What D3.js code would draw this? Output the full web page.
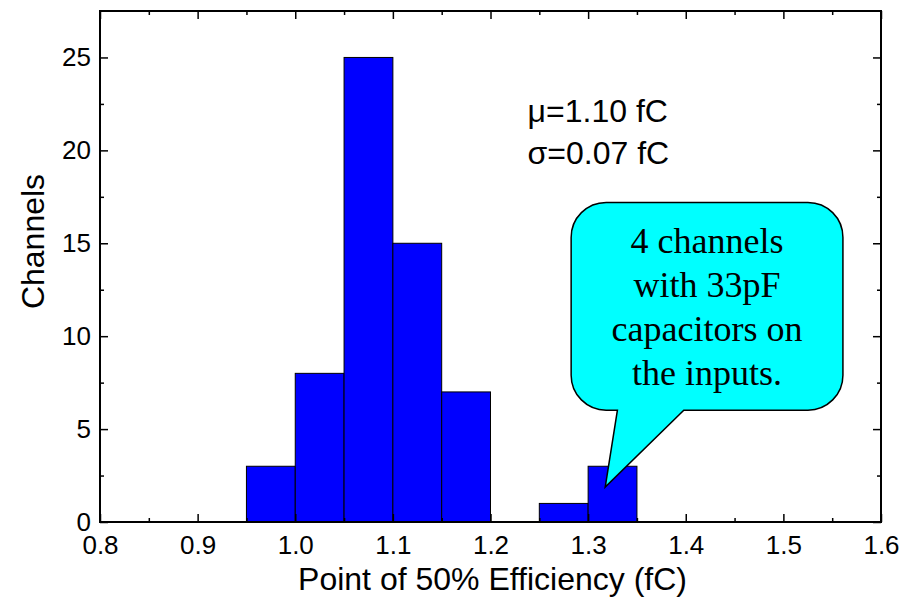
<!DOCTYPE html>
<html lang="en">
<head>
    <meta charset="utf-8">
    <title>Point of 50% Efficiency</title>
    <style>
        body { margin: 0; background: #fff; }
        .tick text { font-family: Arial, "Liberation Sans", sans-serif; font-size: 26px; fill: #000; }
        .tick line { stroke: #000; stroke-width: 1.5px; }
        .label { font-family: Arial, "Liberation Sans", sans-serif; font-size: 32px; fill: #000; }
        .callout text { font-family: "Times New Roman", "Liberation Serif", serif; font-size: 36px; fill: #000; }
    </style>
</head>
<body>
<script src="https://cdn.jsdelivr.net/npm/d3@7/dist/d3.min.js"></script>
<script>
    // histogram bins (left edge, fC) and counts
    const binStarts = [0.95, 1.00, 1.05, 1.10, 1.15, 1.25, 1.30];
    const binCounts = [3, 8, 25, 15, 7, 1, 3];
    const binWidth = 0.05;

    const xMajor = [0.8, 0.9, 1.0, 1.1, 1.2, 1.3, 1.4, 1.5, 1.6];
    const xMinor = [0.85, 0.95, 1.05, 1.15, 1.25, 1.35, 1.45, 1.55];
    const yMajor = [0, 5, 10, 15, 20, 25];
    const yMinor = [2.5, 7.5, 12.5, 17.5, 22.5];

    const statLines = ["\u03bc=1.10 fC", "\u03c3=0.07 fC"];
    const calloutLines = ["4 channels", "with 33pF", "capacitors on", "the inputs."];

    const width = 911, height = 607;
    const margin = {top: 11, right: 30, bottom: 85, left: 100};
    const innerW = width - margin.left - margin.right;
    const innerH = height - margin.top - margin.bottom;

    const x = d3.scaleLinear().domain([0.8, 1.6]).range([0, innerW]);
    const y = d3.scaleLinear().domain([0, 27.5]).range([innerH, 0]);

    const svg = d3.select("body").append("svg")
        .attr("width", width)
        .attr("height", height);

    const g = svg.append("g").attr("transform", `translate(${margin.left},${margin.top})`);

    // bars
    g.append("g").selectAll("rect")
        .data(binStarts.map((s, i) => ({x0: s, x1: s + binWidth, n: binCounts[i]})))
        .join("rect")
        .attr("x", d => x(d.x0))
        .attr("y", d => y(d.n))
        .attr("width", d => x(d.x1) - x(d.x0))
        .attr("height", d => y(0) - y(d.n))
        .attr("fill", "#0000ff")
        .attr("stroke", "#000")
        .attr("stroke-width", 1);

    // inward ticks on all four sides
    const fmtX = d3.format(".1f");
    g.append("g").attr("transform", `translate(0,${innerH})`)
        .call(d3.axisBottom(x).tickValues(xMajor).tickSize(-8).tickPadding(14).tickFormat(fmtX))
        .call(a => a.select(".domain").remove());
    g.append("g").attr("transform", `translate(0,${innerH})`)
        .call(d3.axisBottom(x).tickValues(xMinor).tickSize(-4).tickFormat(""))
        .call(a => a.select(".domain").remove());
    g.append("g")
        .call(d3.axisTop(x).tickValues(xMajor).tickSize(-8).tickFormat(""))
        .call(a => a.select(".domain").remove());
    g.append("g")
        .call(d3.axisTop(x).tickValues(xMinor).tickSize(-4).tickFormat(""))
        .call(a => a.select(".domain").remove());

    g.append("g")
        .call(d3.axisLeft(y).tickValues(yMajor).tickSize(-8).tickPadding(9))
        .call(a => a.select(".domain").remove());
    g.append("g")
        .call(d3.axisLeft(y).tickValues(yMinor).tickSize(-4).tickFormat(""))
        .call(a => a.select(".domain").remove());
    g.append("g").attr("transform", `translate(${innerW},0)`)
        .call(d3.axisRight(y).tickValues(yMajor).tickSize(-8).tickFormat(""))
        .call(a => a.select(".domain").remove());
    g.append("g").attr("transform", `translate(${innerW},0)`)
        .call(d3.axisRight(y).tickValues(yMinor).tickSize(-4).tickFormat(""))
        .call(a => a.select(".domain").remove());

    // frame
    g.append("rect")
        .attr("width", innerW)
        .attr("height", innerH)
        .attr("fill", "none")
        .attr("stroke", "#000")
        .attr("stroke-width", 2);

    // axis titles
    svg.append("text").attr("class", "label")
        .attr("x", margin.left + innerW / 2 + 2)
        .attr("y", 590)
        .attr("text-anchor", "middle")
        .text("Point of 50% Efficiency (fC)");

    svg.append("text").attr("class", "label")
        .attr("transform", `translate(44,${margin.top + innerH / 2 - 25}) rotate(-90)`)
        .attr("text-anchor", "middle")
        .text("Channels");

    // statistics
    g.append("g").selectAll("text")
        .data(statLines)
        .join("text")
        .attr("class", "label")
        .attr("x", x(1.238))
        .attr("y", (d, i) => y(21.55) + i * 42)
        .text(d => d);

    // callout, positioned in data units
    const box = {x0: 1.2826, x1: 1.561, y0: 6.02, y1: 17.2, r: 35};
    const tip = {x: 1.3175, y: 1.88};
    const baseL = 1.33, baseR = 1.398;

    const bx0 = x(box.x0), bx1 = x(box.x1), by0 = y(box.y1), by1 = y(box.y0), r = box.r;
    const p = d3.path();
    p.moveTo(bx0 + r, by0);
    p.lineTo(bx1 - r, by0);
    p.arcTo(bx1, by0, bx1, by0 + r, r);
    p.lineTo(bx1, by1 - r);
    p.arcTo(bx1, by1, bx1 - r, by1, r);
    p.lineTo(x(baseR), by1);
    p.lineTo(x(tip.x), y(tip.y));
    p.lineTo(x(baseL), by1);
    p.lineTo(bx0 + r, by1);
    p.arcTo(bx0, by1, bx0, by1 - r, r);
    p.lineTo(bx0, by0 + r);
    p.arcTo(bx0, by0, bx0 + r, by0, r);
    p.closePath();

    const callout = g.append("g").attr("class", "callout");
    callout.append("path")
        .attr("d", p.toString())
        .attr("fill", "#00ffff")
        .attr("stroke", "#000")
        .attr("stroke-width", 1.5);

    callout.selectAll("text")
        .data(calloutLines)
        .join("text")
        .attr("x", (bx0 + bx1) / 2)
        .attr("y", (d, i) => 242 + i * 44)
        .attr("text-anchor", "middle")
        .text(d => d);
</script>
</body>
</html>
